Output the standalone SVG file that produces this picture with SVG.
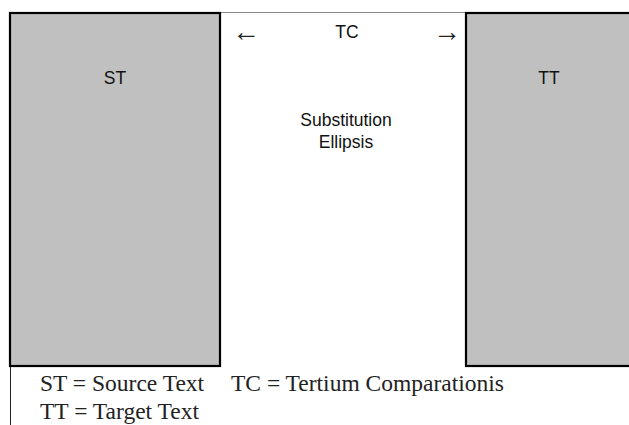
<svg xmlns="http://www.w3.org/2000/svg" width="629" height="425" viewBox="0 0 629 425">
  <style>
    .box { fill: #c0c0c0; stroke: #000; stroke-width: 2.2; }
    .frame { stroke: #888; stroke-width: 1; fill: none; }
    .lbl { font-family: "Liberation Sans", Arial, sans-serif; font-size: 17.5px; fill: #111; text-anchor: middle; }
    .arr { font-family: "Liberation Serif", "DejaVu Serif", serif; font-size: 28px; fill: #222; text-anchor: middle; }
    .key { font-family: "Liberation Serif", "Times New Roman", serif; font-size: 23.5px; fill: #222; }
  </style>
  <rect width="629" height="425" fill="#fff"/>

  <!-- thin frame lines -->
  <g id="frame">
    <line class="frame" x1="221" y1="12.5" x2="466" y2="12.5"/>
    <line x1="10.5" y1="366" x2="10.5" y2="425" stroke="#222" stroke-width="1"/>
  </g>

  <g id="st">
    <rect class="box" x="10" y="13" width="210" height="353"/>
    <text class="lbl" x="115" y="84">ST</text>
  </g>

  <g id="tt">
    <rect class="box" x="466" y="13" width="170" height="353"/>
    <text class="lbl" x="549" y="84">TT</text>
  </g>

  <g id="tc">
    <text class="arr" x="246" y="41">←</text>
    <text class="lbl" x="347" y="38">TC</text>
    <text class="arr" x="447" y="41">→</text>
    <text class="lbl" x="346" y="126">Substitution</text>
    <text class="lbl" x="346" y="148">Ellipsis</text>
  </g>

  <g id="key">
    <text class="key" x="40" y="391">ST = Source Text</text>
    <text class="key" x="231" y="391">TC = Tertium Comparationis</text>
    <text class="key" x="40" y="419">TT = Target Text</text>
  </g>
</svg>
